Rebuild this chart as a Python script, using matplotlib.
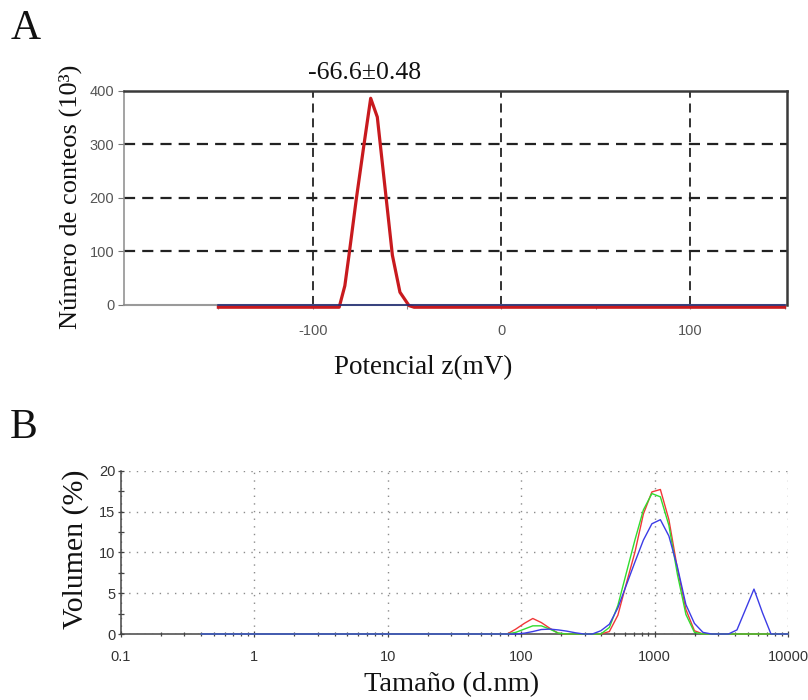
import matplotlib
matplotlib.use("Agg")
import matplotlib.pyplot as plt
from matplotlib import font_manager
from matplotlib.transforms import ScaledTranslation
from matplotlib.ticker import FixedLocator, LogLocator, NullFormatter, FixedFormatter

plt.rcParams["axes.unicode_minus"] = False

# ---------------- data ----------------
# Panel A: zeta potential distribution
zeta_mv = [-150, -86, -83, -80.8, -77, -73, -69.3, -65.8, -57.8, -53.8, -49, -46.3, 150]
zeta_counts = [0, 0, 40, 97, 200, 300, 390, 355, 97, 28, 3, 0, 0]
zeta_base_mv = [-150, 150]
zeta_base_counts = [0, 0]
zeta_label = "-66.6±0.48"
a_xticks = [-100, 0, 100]
a_xticklabels = ["-100", "0", "100"]
a_yticks = [0, 100, 200, 300, 400]

# Panel B: size distribution by volume (three measurements)
size_nm = [0.4, 0.4632, 0.5365, 0.6213, 0.7195, 0.8332, 0.9649,
           1.117, 1.294, 1.499, 1.736, 2.01, 2.328, 2.696, 3.122, 3.615, 4.187,
           4.849, 5.615, 6.503, 7.531, 8.721,
           10.1, 11.7, 13.54, 15.69, 18.17, 21.04, 24.36, 28.21, 32.67, 37.84,
           43.82, 50.75, 58.77, 68.06, 78.82, 91.28,
           105.7, 122.4, 141.8, 164.2, 190.1, 220.2, 255.0, 295.3, 342.0, 396.1,
           458.7, 531.2, 615.1, 712.4, 825.0, 955.4,
           1106, 1281, 1484, 1718, 1990, 2305, 2669, 3091, 3580, 4145, 4801,
           5560, 6439, 7456, 8635, 10000]
vol_red = [0] * 35 + [0, 0, 0.6, 1.3, 1.9, 1.4, 0.7, 0.1, 0, 0, 0, 0, 0,
                      0.3, 2.3, 6.2, 10.0, 14.7, 17.4, 17.7, 14.0, 8.0, 3.0, 0.4, 0,
                      0, 0, 0, 0, 0, 0, 0, 0, 0, 0]
vol_green = [0] * 35 + [0, 0, 0.2, 0.6, 1.0, 1.0, 0.6, 0.1, 0, 0, 0, 0, 0,
                        0.8, 3.5, 7.5, 11.5, 15.2, 17.2, 16.8, 13.3, 7.3, 2.4, 0.2, 0,
                        0, 0, 0, 0, 0, 0, 0, 0, 0, 0]
vol_blue = [0] * 35 + [0, 0, 0, 0.1, 0.3, 0.55, 0.6, 0.5, 0.35, 0.15, 0, 0, 0.4,
                       1.2, 3.2, 6.0, 8.8, 11.5, 13.5, 14.0, 12.0, 8.2, 3.6, 1.3, 0.2,
                       0, 0, 0, 0.5, 3.0, 5.5, 2.6, 0, 0, 0]
b_xticks = [0.1, 1, 10, 100, 1000, 10000]
b_xticklabels = ["0.1", "1", "10", "100", "1000", "10000"]
b_yticks = [0, 5, 10, 15, 20]

# ---------------- fonts ----------------
avail = {f.name for f in font_manager.fontManager.ttflist}
serif = "Liberation Serif" if "Liberation Serif" in avail else "DejaVu Serif"
narrow = "Liberation Sans Narrow" if "Liberation Sans Narrow" in avail else (
    "Liberation Sans" if "Liberation Sans" in avail else "DejaVu Sans")
sans = "Liberation Sans" if "Liberation Sans" in avail else "DejaVu Sans"

W, H = 808, 700
fig = plt.figure(figsize=(W / 100, H / 100), dpi=100)
fig.patch.set_facecolor("white")


def fx(x):
    return x / W


def fy(y):
    return 1 - y / H


# ---------------- Panel A ----------------
axA = fig.add_axes([fx(124), fy(305), fx(786.5) - fx(124), fy(90.7) - fy(305)])
axA.set_xlim(-200, 151)
axA.set_ylim(0, 400)
for yv in [100, 200, 300]:
    axA.axhline(yv, color="#222222", lw=1.6, ls=(0, (5, 3.2)), zorder=1)
for xv in a_xticks:
    axA.axvline(xv, color="#222222", lw=1.3, ls=(0, (5, 3.2)), zorder=1)
axA.axhline(0, color="#9a9a9a", lw=1.5, zorder=2, clip_on=False)
off = axA.transData + ScaledTranslation(0, -1.6 / 72, fig.dpi_scale_trans)
axA.plot(zeta_mv, zeta_counts, color="#c81a1e", lw=2.3, zorder=3,
         transform=off, clip_on=False, solid_joinstyle="round")
axA.plot(zeta_base_mv, zeta_base_counts, color="#1c2a78", lw=1.1, zorder=4, clip_on=False)

axA.spines["bottom"].set_visible(False)
axA.spines["left"].set_color("#8a8a8a")
axA.spines["left"].set_linewidth(1.1)
axA.spines["top"].set_color("#3a3a3a")
axA.spines["top"].set_linewidth(1.8)
axA.spines["right"].set_color("#3a3a3a")
axA.spines["right"].set_linewidth(1.8)
axA.set_xticks(a_xticks)
axA.set_xticklabels(a_xticklabels)
axA.set_xticks([-150, -50, 50, 150], minor=True)
axA.set_yticks(a_yticks)
axA.tick_params(axis="x", which="major", direction="out", length=3, width=0.8,
                color="#888888", pad=11, labelsize=10.5, labelcolor="#555555")
axA.tick_params(axis="x", which="minor", direction="out", length=3, width=0.8,
                color="#888888")
axA.tick_params(axis="y", direction="out", length=4, width=0.8, color="#777777",
                pad=3, labelsize=10.5, labelcolor="#555555")
for lab in axA.get_xticklabels() + axA.get_yticklabels():
    lab.set_fontfamily(narrow)

fig.text(fx(365), fy(73), zeta_label, fontfamily=serif, fontsize=18.5,
         ha="center", va="center", color="#111111")
fig.text(fx(70), fy(197), "Número de conteos (10³)", fontfamily=serif,
         fontsize=19, rotation=90, ha="center", va="center", color="#111111")
fig.text(fx(423), fy(368), "Potencial z(mV)", fontfamily=serif, fontsize=19.5,
         ha="center", va="center", color="#111111")
fig.text(fx(26), fy(29), "A", fontfamily=serif, fontsize=30,
         ha="center", va="center", color="#111111")

# ---------------- Panel B ----------------
axB = fig.add_axes([fx(120.7), fy(634), fx(788) - fx(120.7), fy(470.7) - fy(634)])
axB.set_xscale("log")
axB.set_xlim(0.1, 10000)
axB.set_ylim(0, 20)
axB.plot(size_nm, vol_red, color="#f03838", lw=1.0, zorder=3, clip_on=False)
axB.plot(size_nm, vol_green, color="#30dc30", lw=1.0, zorder=4, clip_on=False)
axB.plot(size_nm, vol_blue, color="#3c3ce6", lw=1.0, zorder=5, clip_on=False)

axB.grid(True, which="major", color="#8c8c8c", lw=1.0, ls=(0, (1, 4.5)))
axB.set_axisbelow(True)
for s in ["top", "right"]:
    axB.spines[s].set_visible(False)
for s in ["bottom", "left"]:
    axB.spines[s].set_color("#444444")
    axB.spines[s].set_linewidth(1.1)
axB.set_xticks(b_xticks)
axB.xaxis.set_major_formatter(FixedFormatter(b_xticklabels))
axB.xaxis.set_minor_locator(LogLocator(base=10, subs=[2, 3, 4, 5, 6, 7, 8, 9], numticks=20))
axB.xaxis.set_minor_formatter(NullFormatter())
axB.set_yticks(b_yticks)
axB.yaxis.set_minor_locator(FixedLocator([2.5, 7.5, 12.5, 17.5]))
axB.tick_params(axis="x", which="major", direction="inout", length=5, width=0.9,
                color="#444444", pad=9, labelsize=10.5, labelcolor="#333333")
axB.tick_params(axis="x", which="minor", direction="inout", length=3.5, width=0.9,
                color="#444444")
axB.tick_params(axis="y", which="major", direction="inout", length=5, width=0.9,
                color="#444444", pad=1.5, labelsize=10.5, labelcolor="#333333")
axB.tick_params(axis="y", which="minor", direction="inout", length=5, width=0.9,
                color="#444444")
for lab in axB.get_xticklabels() + axB.get_yticklabels():
    lab.set_fontfamily(sans)

fig.text(fx(76), fy(549), "Volumen (%)", fontfamily=serif, fontsize=21.5,
         rotation=90, ha="center", va="center", color="#111111")
fig.text(fx(452), fy(685), "Tamaño (d.nm)", fontfamily=serif, fontsize=20.5,
         ha="center", va="center", color="#111111")
fig.text(fx(24), fy(428), "B", fontfamily=serif, fontsize=30,
         ha="center", va="center", color="#111111")

fig.savefig("out.png", dpi=100, facecolor="white")
